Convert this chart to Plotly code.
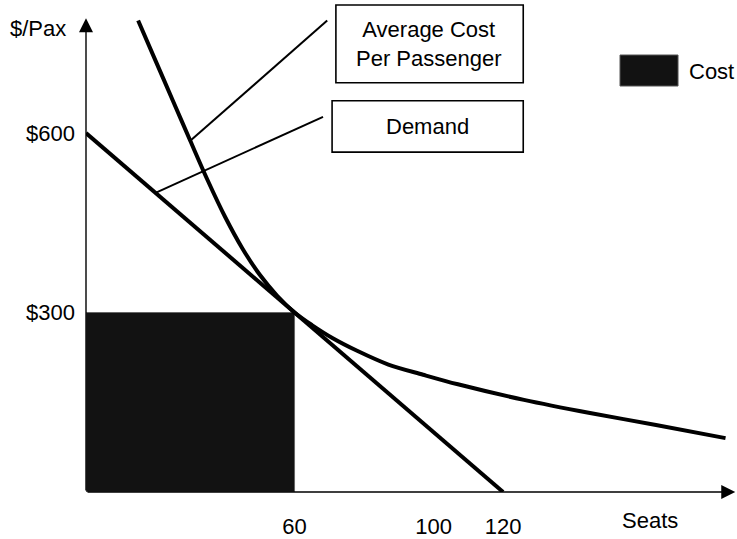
import numpy as np
import plotly.graph_objects as go

# Demand schedule: fare falls linearly as more seats are sold
demand_seats = [0, 120]
demand_fare = [600, 0]

# Average cost per passenger as the number of seats grows
ac_seats = [15, 20, 25, 30, 35, 40, 45, 50, 55, 60, 65, 71, 78, 87, 97,
            107, 126, 145, 164, 184]
ac_fare = [788, 721, 654, 587, 521, 460, 407, 363, 328, 300, 279, 257, 236,
           213, 196, 180, 154, 132, 112, 90]

# Break-even: seats sold and fare at which demand meets average cost
breakeven_seats = 60
breakeven_fare = 300

x_tick_values = [60, 100, 120]
x_tick_labels = ["60", "100", "120"]
y_tick_values = [300, 600]
y_tick_labels = ["$300", "$600"]

FONT = "Liberation Sans, Arial, sans-serif"
FS = 22

fig = go.Figure()

# Total cost area: seats sold times average cost
fig.add_trace(go.Scatter(
    x=[0, 0, breakeven_seats, breakeven_seats, 0],
    y=[0, breakeven_fare, breakeven_fare, 0, 0],
    mode="lines", fill="toself", fillcolor="#121212",
    line=dict(color="#666666", width=1), name="Cost", showlegend=False,
    hoverinfo="skip",
))

fig.add_trace(go.Scatter(
    x=demand_seats, y=demand_fare, mode="lines",
    line=dict(color="black", width=4), name="Demand", showlegend=False,
))

fig.add_trace(go.Scatter(
    x=ac_seats, y=ac_fare, mode="lines",
    line=dict(color="black", width=4, shape="spline", smoothing=0.9),
    name="Average Cost Per Passenger", showlegend=False,
))

x_max = 187.3
y_max = 822.3

# Leader lines from the curves to their label boxes
ac_q = 30
ac_anchor = (ac_q, float(np.interp(ac_q, ac_seats, ac_fare)))
dem_q = 20
dem_anchor = (dem_q, float(np.interp(dem_q, demand_seats, demand_fare)))

shapes = [
    dict(type="line", xref="x", yref="y", x0=ac_anchor[0], y0=ac_anchor[1],
         x1=69.4, y1=788, line=dict(color="black", width=2)),
    dict(type="line", xref="x", yref="y", x0=dem_anchor[0], y0=dem_anchor[1],
         x1=68.2, y1=627, line=dict(color="black", width=2)),
    # label boxes
    dict(type="rect", xref="x", yref="y", x0=71.9, x1=125.8, y0=684, y1=814,
         line=dict(color="black", width=1.6), fillcolor="white"),
    dict(type="rect", xref="x", yref="y", x0=70.8, x1=125.8, y0=568, y1=654,
         line=dict(color="black", width=1.6), fillcolor="white"),
    # legend swatch
    dict(type="rect", xref="paper", yref="paper", x0=0.8203, x1=0.9094,
         y0=0.8252, y1=0.8882, line=dict(color="#555555", width=1),
         fillcolor="#121212"),
]

annotations = [
    # axis arrows
    dict(x=0, y=792, ax=0, ay=0, xref="x", yref="y", axref="x", ayref="y",
         showarrow=True, arrowhead=2, arrowsize=2, arrowwidth=1.4,
         arrowcolor="black", text="", standoff=0, startstandoff=0),
    dict(x=186.8, y=0, ax=0, ay=0, xref="x", yref="y", axref="x", ayref="y",
         showarrow=True, arrowhead=2, arrowsize=2, arrowwidth=1.4,
         arrowcolor="black", text="", standoff=0, startstandoff=0),
    dict(text="$/Pax", xref="paper", yref="paper", x=-0.0276, y=0.943,
         xanchor="right", yanchor="middle", showarrow=False,
         font=dict(family=FONT, size=FS, color="black")),
    dict(text="Seats", xref="paper", yref="paper", x=0.866, y=-0.057,
         xanchor="center", yanchor="middle", showarrow=False,
         font=dict(family=FONT, size=FS, color="black")),
    dict(text="Average Cost<br>Per Passenger", xref="x", yref="y", x=98.8,
         y=749, xanchor="center", yanchor="middle", showarrow=False,
         font=dict(family=FONT, size=FS, color="black")),
    dict(text="Demand", xref="x", yref="y", x=98.3, y=611,
         xanchor="center", yanchor="middle", showarrow=False,
         font=dict(family=FONT, size=FS, color="black")),
    dict(text="Cost", xref="paper", yref="paper", x=0.9232, y=0.8537,
         xanchor="left", yanchor="middle", showarrow=False,
         font=dict(family=FONT, size=FS, color="black")),
]

fig.update_layout(
    width=737, height=539,
    margin=dict(l=86, r=0, t=0, b=47),
    paper_bgcolor="white", plot_bgcolor="white",
    showlegend=False,
    shapes=shapes, annotations=annotations,
    font=dict(family=FONT, size=FS, color="black"),
    xaxis=dict(range=[0, x_max], showgrid=False, zeroline=False,
               showline=False, tickvals=x_tick_values, ticktext=x_tick_labels,
               ticks="", ticklabelstandoff=19,
               tickfont=dict(family=FONT, size=FS, color="black")),
    yaxis=dict(range=[0, y_max], showgrid=False, zeroline=False,
               showline=False, tickvals=y_tick_values, ticktext=y_tick_labels,
               ticks="", ticklabelstandoff=10,
               tickfont=dict(family=FONT, size=FS, color="black")),
)

fig.write_html("out.html")
